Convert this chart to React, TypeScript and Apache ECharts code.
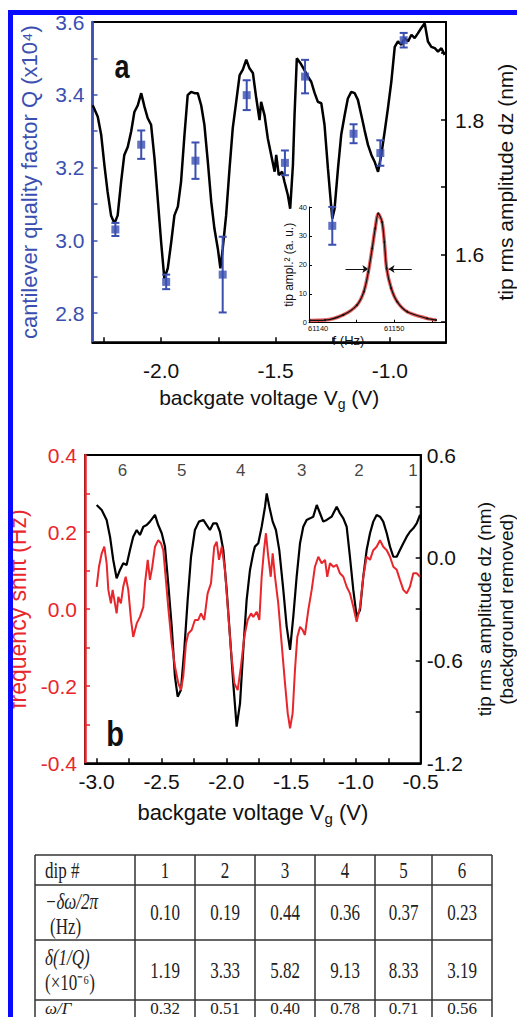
import React, { useEffect, useRef } from "react";
import * as echarts from "echarts";

const FONT = '"Liberation Sans", Arial, Helvetica, sans-serif';
const SERIF = '"Liberation Serif", "Times New Roman", serif';
const BLUE = "#3a4fb0";
const RED = "#e8262b";
const BORDER_BLUE = "#0a0aff";

// ---------- Panel a: tip rms amplitude dz (nm) vs backgate voltage ----------
const dzPanelA: number[][] = [
  [-2.299, 1.822], [-2.277, 1.805], [-2.262, 1.778], [-2.248, 1.733], [-2.234, 1.693], [-2.219, 1.658],
  [-2.204, 1.646], [-2.19, 1.658], [-2.175, 1.708], [-2.161, 1.748], [-2.146, 1.76], [-2.131, 1.783],
  [-2.117, 1.812], [-2.102, 1.822], [-2.087, 1.84], [-2.073, 1.82], [-2.059, 1.803], [-2.044, 1.793],
  [-2.029, 1.743], [-2.015, 1.683], [-2.0, 1.618], [-1.986, 1.564], [-1.971, 1.579], [-1.956, 1.618],
  [-1.942, 1.658], [-1.927, 1.671], [-1.913, 1.708], [-1.898, 1.778], [-1.884, 1.837], [-1.869, 1.842],
  [-1.854, 1.84], [-1.84, 1.84], [-1.825, 1.822], [-1.811, 1.793], [-1.796, 1.738], [-1.781, 1.678],
  [-1.767, 1.638], [-1.752, 1.608], [-1.741, 1.579], [-1.731, 1.608], [-1.716, 1.658], [-1.701, 1.728],
  [-1.687, 1.788], [-1.672, 1.827], [-1.657, 1.867], [-1.643, 1.875], [-1.628, 1.89], [-1.614, 1.877],
  [-1.599, 1.87], [-1.584, 1.832], [-1.57, 1.8], [-1.563, 1.827], [-1.548, 1.807], [-1.534, 1.773],
  [-1.519, 1.748], [-1.504, 1.723], [-1.497, 1.748], [-1.486, 1.718], [-1.471, 1.723], [-1.461, 1.708],
  [-1.446, 1.688], [-1.436, 1.668], [-1.424, 1.733], [-1.417, 1.807], [-1.407, 1.892], [-1.392, 1.885],
  [-1.378, 1.877], [-1.359, 1.865], [-1.344, 1.857], [-1.329, 1.84], [-1.315, 1.827], [-1.3, 1.825],
  [-1.286, 1.793], [-1.271, 1.728], [-1.261, 1.688], [-1.252, 1.653], [-1.242, 1.668], [-1.227, 1.728],
  [-1.213, 1.778], [-1.198, 1.807], [-1.184, 1.832], [-1.169, 1.842], [-1.154, 1.84], [-1.14, 1.83],
  [-1.125, 1.807], [-1.111, 1.785], [-1.096, 1.763], [-1.081, 1.748], [-1.067, 1.738], [-1.052, 1.723],
  [-1.038, 1.748], [-1.023, 1.783], [-1.009, 1.817], [-0.994, 1.857], [-0.979, 1.909], [-0.965, 1.917],
  [-0.95, 1.912], [-0.936, 1.922], [-0.921, 1.917], [-0.906, 1.927], [-0.892, 1.922], [-0.878, 1.929],
  [-0.863, 1.937], [-0.848, 1.944], [-0.834, 1.917], [-0.819, 1.909], [-0.804, 1.907], [-0.79, 1.902],
  [-0.775, 1.907], [-0.761, 1.897],
];

// cantilever quality factor Q (x10^4) with error bars
const qVoltage = [-2.2, -2.087, -1.978, -1.85, -1.731, -1.626, -1.459, -1.371, -1.252, -1.159, -1.042, -0.94];
const qValue = [3.03, 3.263, 2.886, 3.219, 2.906, 3.399, 3.213, 3.45, 3.04, 3.293, 3.24, 3.55];
const qError = [0.018, 0.039, 0.02, 0.05, 0.104, 0.041, 0.034, 0.046, 0.052, 0.026, 0.035, 0.02];

// inset: resonance curve
const insetFreq = [61138.9, 61140.9, 61143.3, 61145.1, 61146.0, 61146.6, 61147.1, 61147.5, 61147.9, 61148.4, 61148.7, 61149.0, 61149.6, 61150.4, 61151.7, 61154.3, 61155.5];
const insetAmp = [0.8, 0.9, 2.7, 6.1, 10.7, 17.6, 25.7, 32.6, 37.7, 34.8, 27.9, 18.8, 11.9, 7.2, 3.8, 1.5, 0.9];
const insetArrowLeft = [61143.6, 61146.6];
const insetArrowRight = [61152.3, 61149.25];
const insetArrowLevel = 18.6;

// ---------- Panel b ----------
const dzPanelB: number[][] = [
  [-3.0, 0.308], [-2.961, 0.279], [-2.923, 0.221], [-2.897, 0.123], [-2.872, -0.013], [-2.846, -0.12],
  [-2.82, -0.071], [-2.795, -0.032], [-2.769, -0.042], [-2.743, 0.045], [-2.718, 0.123], [-2.691, 0.162],
  [-2.666, 0.133], [-2.64, 0.181], [-2.614, 0.191], [-2.589, 0.211], [-2.55, 0.25], [-2.525, 0.191],
  [-2.498, 0.143], [-2.473, 0.065], [-2.448, -0.149], [-2.421, -0.402], [-2.396, -0.694], [-2.375, -0.811],
  [-2.35, -0.772], [-2.324, -0.538], [-2.298, -0.247], [-2.272, 0.006], [-2.242, 0.162], [-2.211, 0.211],
  [-2.177, 0.221], [-2.151, 0.191], [-2.126, 0.162], [-2.1, 0.201], [-2.074, 0.201], [-2.049, 0.152],
  [-2.023, 0.045], [-1.997, -0.188], [-1.971, -0.461], [-1.946, -0.733], [-1.92, -0.986], [-1.894, -0.85],
  [-1.869, -0.538], [-1.843, -0.247], [-1.817, -0.071], [-1.792, 0.026], [-1.779, 0.065], [-1.753, 0.085],
  [-1.727, 0.181], [-1.701, 0.298], [-1.688, 0.376], [-1.668, 0.298], [-1.642, 0.211], [-1.617, 0.162],
  [-1.591, 0.045], [-1.56, -0.188], [-1.534, -0.402], [-1.508, -0.538], [-1.483, -0.344], [-1.457, -0.11],
  [-1.431, 0.085], [-1.406, 0.181], [-1.38, 0.221], [-1.354, 0.23], [-1.329, 0.24], [-1.302, 0.308],
  [-1.277, 0.26], [-1.252, 0.211], [-1.225, 0.221], [-1.187, 0.24], [-1.148, 0.298], [-1.123, 0.26],
  [-1.097, 0.23], [-1.071, 0.181], [-1.046, 0.006], [-1.02, -0.188], [-0.994, -0.344], [-0.968, -0.305],
  [-0.943, -0.11], [-0.917, 0.045], [-0.891, 0.143], [-0.866, 0.211], [-0.84, 0.25], [-0.814, 0.24],
  [-0.789, 0.211], [-0.762, 0.143], [-0.737, 0.065], [-0.711, 0.006], [-0.685, 0.006], [-0.66, 0.045],
  [-0.634, 0.085], [-0.608, 0.123], [-0.583, 0.152], [-0.557, 0.172], [-0.531, 0.201], [-0.505, 0.25],
];

const freqShiftB: number[][] = [
  [-3.0, 0.058], [-2.982, 0.11], [-2.961, 0.145], [-2.941, 0.162], [-2.923, 0.119], [-2.91, 0.05],
  [-2.89, 0.015], [-2.877, 0.05], [-2.859, 0.015], [-2.846, -0.011], [-2.833, 0.032], [-2.813, 0.015],
  [-2.795, 0.058], [-2.776, 0.084], [-2.756, 0.05], [-2.735, -0.028], [-2.718, -0.072], [-2.691, -0.037],
  [-2.666, -0.02], [-2.64, 0.006], [-2.627, 0.067], [-2.606, 0.128], [-2.589, 0.076], [-2.571, 0.11],
  [-2.55, 0.162], [-2.525, 0.179], [-2.504, 0.171], [-2.486, 0.153], [-2.468, 0.084], [-2.448, 0.006],
  [-2.421, -0.089], [-2.396, -0.149], [-2.37, -0.192], [-2.35, -0.21], [-2.332, -0.175], [-2.311, -0.089],
  [-2.293, -0.063], [-2.267, -0.054], [-2.242, -0.028], [-2.216, -0.028], [-2.195, -0.011], [-2.17, -0.028],
  [-2.144, 0.041], [-2.118, 0.067], [-2.093, 0.162], [-2.074, 0.175], [-2.056, 0.128], [-2.035, 0.162],
  [-2.01, 0.102], [-1.989, 0.006], [-1.964, -0.106], [-1.938, -0.192], [-1.912, -0.21], [-1.887, -0.149],
  [-1.861, -0.072], [-1.835, -0.028], [-1.809, -0.011], [-1.792, -0.02], [-1.765, -0.007], [-1.745, -0.028],
  [-1.727, 0.084], [-1.709, 0.153], [-1.694, 0.197], [-1.676, 0.136], [-1.657, 0.084], [-1.642, 0.145],
  [-1.624, 0.084], [-1.599, 0.015], [-1.573, -0.089], [-1.547, -0.192], [-1.526, -0.27], [-1.508, -0.309],
  [-1.488, -0.27], [-1.47, -0.158], [-1.452, -0.072], [-1.431, -0.046], [-1.411, -0.054], [-1.393, -0.067],
  [-1.367, -0.002], [-1.341, 0.05], [-1.316, 0.11], [-1.29, 0.136], [-1.264, 0.119], [-1.238, 0.128],
  [-1.221, 0.084], [-1.2, 0.119], [-1.174, 0.11], [-1.148, 0.115], [-1.123, 0.093], [-1.097, 0.084],
  [-1.071, 0.058], [-1.046, 0.041], [-1.02, 0.006], [-0.994, -0.033], [-0.968, 0.006], [-0.943, 0.084],
  [-0.917, 0.136], [-0.891, 0.128], [-0.866, 0.153], [-0.84, 0.162], [-0.814, 0.179], [-0.789, 0.162],
  [-0.762, 0.153], [-0.737, 0.136], [-0.711, 0.11], [-0.685, 0.102], [-0.66, 0.076], [-0.634, 0.05],
  [-0.608, 0.041], [-0.583, 0.058], [-0.557, 0.093], [-0.531, 0.093], [-0.505, 0.084],
];

const dipMarkerV = [-2.8, -2.344, -1.889, -1.418, -0.976, -0.56];
const dipMarkerLabel = ["6", "5", "4", "3", "2", "1"];
const dipMarkerLevel = 0.36;

// ---------- Table ----------
const dipNumbers = [1, 2, 3, 4, 5, 6];
const freqShiftHz = [0.1, 0.19, 0.44, 0.36, 0.37, 0.23];
const dampingShift = [1.19, 3.33, 5.82, 9.13, 8.33, 3.19];
const omegaOverGamma = [0.32, 0.51, 0.4, 0.78, 0.71, 0.56];

// tick values
const ticksAx = [-2.25, -2.0, -1.75, -1.5, -1.25, -1.0];
const labelsAx = [-2.0, -1.5, -1.0];
const ticksQ = [2.8, 2.9, 3.0, 3.1, 3.2, 3.3, 3.4, 3.5];
const labelsQ = [2.8, 3.0, 3.2, 3.4, 3.6];
const ticksDzA = [1.5, 1.6, 1.7, 1.8, 1.9];
const labelsDzA = [1.6, 1.8];
const ticksInsetF = [61140, 61145, 61150, 61155];
const labelsInsetF = [61140, 61150];
const ticksInsetA = [0, 10, 20, 30, 40];
const ticksBx = [-3.0, -2.75, -2.5, -2.25, -2.0, -1.75, -1.5, -1.25, -1.0, -0.75, -0.5];
const labelsBx = [-3.0, -2.5, -2.0, -1.5, -1.0, -0.5];
const ticksFs = [-0.3, -0.2, -0.1, 0, 0.1, 0.2, 0.3];
const labelsFs = [-0.4, -0.2, 0.0, 0.2, 0.4];
const ticksDzB = [-0.9, -0.6, -0.3, 0, 0.3];
const labelsDzB = [-1.2, -0.6, 0.0, 0.6];

function buildOption() {
  const fmt1 = (v: number) => v.toFixed(1);
  const tickStyle = (color: string) => ({ lineStyle: { color, width: 1.5 } });

  const table: any[] = [];
  const colX = [35, 135, 195, 255, 315, 375, 432, 492];
  const rowY = [855, 885, 940, 1000, 1040];
  rowY.forEach((y) =>
    table.push({ type: "line", shape: { x1: colX[0], y1: y, x2: colX[colX.length - 1], y2: y }, style: { stroke: "#333", lineWidth: 1.5 } })
  );
  colX.forEach((x) =>
    table.push({ type: "line", shape: { x1: x, y1: rowY[0], x2: x, y2: rowY[rowY.length - 1] }, style: { stroke: "#333", lineWidth: 1.5 } })
  );
  const cellText = (x: number, y: number, text: string, align = "center", italic = false, sy = 1.3) => ({
    type: "text",
    x,
    y,
    scaleY: sy,
    style: {
      text,
      fill: "#222",
      font: `${italic ? "italic " : ""}17px ${SERIF}`,
      align,
      verticalAlign: "middle",
    },
  });
  table.push(cellText(45, 870, "dip #", "left"));
  table.push(cellText(45, 901, "−δω/2π", "left", true));
  table.push(cellText(50, 926, "(Hz)", "left"));
  table.push(cellText(45, 957, "δ(1/Q)", "left", true));
  table.push(cellText(45, 982, "(×10⁻⁶)", "left"));
  table.push(cellText(45, 1008, "ω/Γ", "left", true, 1.0));
  const rowCenters = [870, 912, 970, 1008];
  const rowScale = [1.3, 1.3, 1.3, 1.0];
  const rows = [dipNumbers.map(String), freqShiftHz.map((v) => v.toFixed(2)), dampingShift.map((v) => v.toFixed(2)), omegaOverGamma.map((v) => v.toFixed(2))];
  rows.forEach((row, r) =>
    row.forEach((t, c) => table.push(cellText((colX[c + 1] + colX[c + 2]) / 2, rowCenters[r], t, "center", false, rowScale[r])))
  );

  const noZero = { onZero: false };

  return {
    animation: false,
    backgroundColor: "#fff",
    textStyle: { fontFamily: FONT },
    grid: [
      { left: 92.5, top: 22, width: 353.5, height: 320.3, show: true, borderColor: "#000", borderWidth: 2, backgroundColor: "transparent", outerBoundsMode: "none", containLabel: false },
      { left: 309, top: 207, width: 137, height: 115.7, outerBoundsMode: "none", containLabel: false },
      { left: 85, top: 455, width: 335.7, height: 308.3, show: true, borderColor: "#000", borderWidth: 2, backgroundColor: "transparent", outerBoundsMode: "none", containLabel: false },
    ],
    xAxis: [
      {
        gridIndex: 0, type: "value", min: -2.3, max: -0.755,
        axisLine: { ...noZero, lineStyle: { color: "#000", width: 2 } },
        axisTick: { inside: true, length: 5, customValues: ticksAx, ...tickStyle("#000") },
        axisLabel: { customValues: labelsAx, formatter: fmt1, fontSize: 21, color: "#111", margin: 18, fontFamily: FONT },
        splitLine: { show: false },
        name: "backgate voltage V{sub|g} (V)", nameLocation: "middle", nameGap: 41,
        nameTextStyle: { fontSize: 21, color: "#111", fontFamily: FONT, lineHeight: 28, rich: { sub: { fontSize: 14, verticalAlign: "bottom", lineHeight: 28, fontFamily: FONT, color: "#111" } } },
      },
      {
        gridIndex: 1, type: "value", min: 61138.8, max: 61156.8,
        axisLine: { ...noZero, lineStyle: { color: "#000", width: 1 } },
        axisTick: { inside: true, length: 3, customValues: ticksInsetF, lineStyle: { color: "#000", width: 1 } },
        axisLabel: { customValues: labelsInsetF, formatter: (v: number) => String(Math.round(v)), fontSize: 7.5, color: "#111", margin: 2, fontFamily: FONT },
        splitLine: { show: false },
        name: "f (Hz)", nameLocation: "middle", nameGap: 6,
        nameTextStyle: { fontSize: 13, color: "#111", padding: [0, 58, 0, 0], fontFamily: FONT },
      },
      {
        gridIndex: 2, type: "value", min: -3.09, max: -0.5,
        axisLine: { ...noZero, lineStyle: { color: "#000", width: 2 } },
        axisTick: { inside: true, length: 5, customValues: ticksBx, ...tickStyle("#000") },
        axisLabel: { customValues: labelsBx, formatter: fmt1, fontSize: 21, color: "#111", margin: 8, fontFamily: FONT },
        splitLine: { show: false },
        name: "backgate voltage V{sub|g} (V)", nameLocation: "middle", nameGap: 35,
        nameTextStyle: { fontSize: 22, color: "#111", fontFamily: FONT, lineHeight: 28, rich: { sub: { fontSize: 15, verticalAlign: "bottom", lineHeight: 28, fontFamily: FONT, color: "#111" } } },
      },
    ],
    yAxis: [
      {
        gridIndex: 0, type: "value", position: "left", min: 2.72, max: 3.6,
        axisLine: { ...noZero, lineStyle: { color: BLUE, width: 2.5 } },
        axisTick: { inside: true, length: 5, customValues: ticksQ, ...tickStyle(BLUE) },
        axisLabel: { customValues: labelsQ, formatter: fmt1, fontSize: 21, color: BLUE, margin: 8, fontFamily: FONT },
        splitLine: { show: false },
        name: "cantilever quality factor Q (x10⁴)", nameLocation: "middle", nameGap: 52, nameRotate: 90,
        nameTextStyle: { fontSize: 22, color: BLUE, fontFamily: FONT },
      },
      {
        gridIndex: 0, type: "value", position: "right", min: 1.469, max: 1.946,
        axisLine: { ...noZero, lineStyle: { color: "#000", width: 2 } },
        axisTick: { inside: true, length: 5, customValues: ticksDzA, ...tickStyle("#000") },
        axisLabel: { customValues: labelsDzA, formatter: fmt1, fontSize: 21, color: "#111", margin: 9, fontFamily: FONT },
        splitLine: { show: false },
        name: "tip rms amplitude dz (nm)", nameLocation: "middle", nameGap: 22, nameRotate: 90,
        nameTextStyle: { fontSize: 21, color: "#111", fontFamily: FONT },
      },
      {
        gridIndex: 1, type: "value", min: 0, max: 40,
        axisLine: { ...noZero, lineStyle: { color: "#000", width: 1 } },
        axisTick: { inside: true, length: 3, customValues: ticksInsetA, lineStyle: { color: "#000", width: 1 } },
        axisLabel: { customValues: ticksInsetA, fontSize: 7.5, color: "#111", margin: 2, fontFamily: FONT },
        splitLine: { show: false },
        name: "tip ampl.² (a. u.)", nameLocation: "middle", nameGap: 14, nameRotate: 90,
        nameTextStyle: { fontSize: 12, color: "#111", fontFamily: FONT },
      },
      {
        gridIndex: 2, type: "value", position: "left", min: -0.4, max: 0.4,
        axisLine: { ...noZero, lineStyle: { color: RED, width: 2.5 } },
        axisTick: { inside: true, length: 5, customValues: ticksFs, ...tickStyle(RED) },
        axisLabel: { customValues: labelsFs, formatter: fmt1, fontSize: 21, color: RED, margin: 8, fontFamily: FONT },
        splitLine: { show: false },
        name: "frequency shift (Hz)", nameLocation: "middle", nameGap: 56, nameRotate: 90,
        nameTextStyle: { fontSize: 23, color: RED, fontFamily: FONT },
      },
      {
        gridIndex: 2, type: "value", position: "right", min: -1.2, max: 0.6,
        axisLine: { ...noZero, lineStyle: { color: "#000", width: 2 } },
        axisTick: { inside: true, length: 5, customValues: ticksDzB, ...tickStyle("#000") },
        axisLabel: { customValues: labelsDzB, formatter: fmt1, fontSize: 21, color: "#111", margin: 6, fontFamily: FONT },
        splitLine: { show: false },
        name: "tip rms amplitude dz (nm)\n(background removed)", nameLocation: "middle", nameGap: 27, nameRotate: 90,
        nameTextStyle: { fontSize: 19, color: "#111", lineHeight: 22, fontFamily: FONT },
      },
    ],
    series: [
      {
        type: "line", xAxisIndex: 0, yAxisIndex: 1, data: dzPanelA, showSymbol: false, symbol: "none",
        lineStyle: { color: "#000", width: 2.5 }, z: 2,
      },
      {
        type: "custom", xAxisIndex: 0, yAxisIndex: 0, z: 3,
        data: qVoltage.map((v, i) => [v, qValue[i] - qError[i], qValue[i] + qError[i]]),
        encode: { x: 0, y: [1, 2] },
        renderItem: (_params: any, api: any) => {
          const x = api.value(0);
          const lo = api.coord([x, api.value(1)]);
          const hi = api.coord([x, api.value(2)]);
          const cap = 4;
          const st = { stroke: BLUE, lineWidth: 2 };
          return {
            type: "group",
            children: [
              { type: "line", shape: { x1: lo[0], y1: lo[1], x2: hi[0], y2: hi[1] }, style: st },
              { type: "line", shape: { x1: lo[0] - cap, y1: lo[1], x2: lo[0] + cap, y2: lo[1] }, style: st },
              { type: "line", shape: { x1: hi[0] - cap, y1: hi[1], x2: hi[0] + cap, y2: hi[1] }, style: st },
            ],
          };
        },
      },
      {
        type: "scatter", xAxisIndex: 0, yAxisIndex: 0, z: 4,
        data: qVoltage.map((v, i) => [v, qValue[i]]),
        symbol: "rect", symbolSize: 8, itemStyle: { color: BLUE },
      },
      {
        type: "line", xAxisIndex: 1, yAxisIndex: 2, data: insetFreq.map((f, i) => [f, insetAmp[i]]),
        smooth: 0.3, symbol: "none", lineStyle: { color: "#e04040", width: 3.5, opacity: 0.85 }, z: 5,
      },
      {
        type: "line", xAxisIndex: 1, yAxisIndex: 2, data: insetFreq.map((f, i) => [f, insetAmp[i]]),
        smooth: 0.3, symbol: "circle", symbolSize: 2, itemStyle: { color: "#111" },
        lineStyle: { color: "#111", width: 1.2 }, z: 6,
        markLine: {
          silent: true, symbol: ["none", "arrow"], symbolSize: 6,
          lineStyle: { color: "#111", width: 1, type: "solid" }, label: { show: false },
          data: [
            [{ coord: [insetArrowLeft[0], insetArrowLevel] }, { coord: [insetArrowLeft[1], insetArrowLevel] }],
            [{ coord: [insetArrowRight[0], insetArrowLevel] }, { coord: [insetArrowRight[1], insetArrowLevel] }],
          ],
        },
      },
      {
        type: "line", xAxisIndex: 2, yAxisIndex: 4, data: dzPanelB, symbol: "none",
        lineStyle: { color: "#000", width: 2.2 }, z: 2,
      },
      {
        type: "line", xAxisIndex: 2, yAxisIndex: 3, data: freqShiftB, symbol: "none",
        lineStyle: { color: RED, width: 2 }, z: 3,
      },
      {
        type: "scatter", xAxisIndex: 2, yAxisIndex: 3, z: 4,
        data: dipMarkerV.map((v) => [v, dipMarkerLevel]),
        symbolSize: 1, itemStyle: { color: "transparent" },
        label: {
          show: true, position: "inside", fontSize: 17, color: "#111", fontFamily: FONT,
          formatter: (p: any) => dipMarkerLabel[p.dataIndex],
        },
      },
    ],
    graphic: [
      { type: "text", x: 122, y: 67, style: { text: "a", font: `bold 27px ${FONT}`, fill: "#111", align: "center", verticalAlign: "middle" }, scaleY: 1.2 },
      { type: "text", x: 115, y: 734, style: { text: "b", font: `bold 29px ${FONT}`, fill: "#111", align: "center", verticalAlign: "middle" }, scaleY: 1.2 },
      ...table,
      { type: "rect", shape: { x: 0, y: 0, width: 517, height: 10 }, style: { fill: "#fff" }, z: 99 },
      { type: "rect", shape: { x: 0, y: 0, width: 8, height: 1017 }, style: { fill: "#fff" }, z: 99 },
      { type: "rect", shape: { x: 8, y: 10, width: 509, height: 5 }, style: { fill: BORDER_BLUE }, z: 100 },
      { type: "rect", shape: { x: 8, y: 10, width: 5, height: 1007 }, style: { fill: BORDER_BLUE }, z: 100 },
    ],
  };
}

export default function App() {
  const ref = useRef<HTMLDivElement>(null);
  useEffect(() => {
    if (!ref.current) return;
    const chart = echarts.init(ref.current, null, { renderer: "svg" });
    chart.setOption(buildOption() as any);
    return () => chart.dispose();
  }, []);
  return (
    <div
      ref={ref}
      style={{ position: "absolute", left: 0, top: 0, width: 517, height: 1017, background: "#fff" }}
    />
  );
}
